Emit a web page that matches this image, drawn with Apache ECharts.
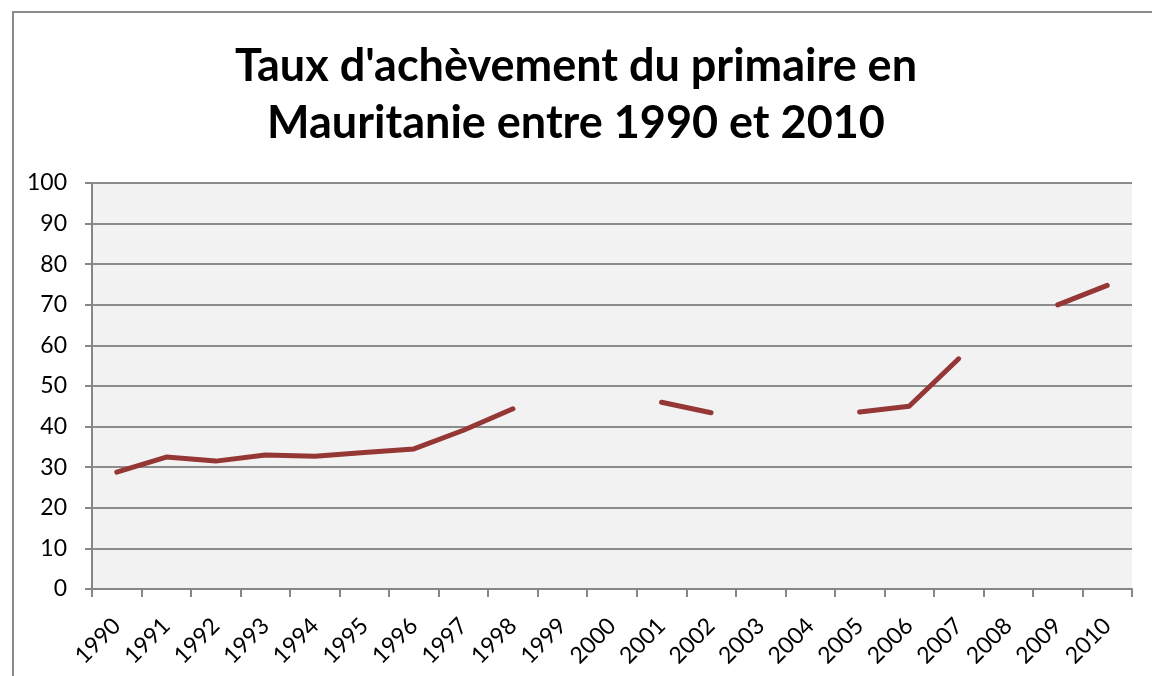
<!DOCTYPE html>
<html>
<head>
<meta charset="utf-8">
<script src="https://cdn.jsdelivr.net/npm/echarts@6/dist/echarts.min.js"></script>
<style>
  html, body { margin: 0; padding: 0; background: #fff; }
  #frame { position: absolute; left: 12px; top: 11px; width: 1200px; height: 720px; border: 2px solid #8a8a8a; box-sizing: border-box; }
  #chart { position: absolute; left: 0; top: 0; width: 1152px; height: 676px; }
</style>
</head>
<body>
<div id="frame"></div>
<div id="chart"></div>
<script>
  // années et taux (null = pas de donnée)
  const years = ['1990','1991','1992','1993','1994','1995','1996','1997','1998','1999','2000',
    '2001','2002','2003','2004','2005','2006','2007','2008','2009','2010'];
  const rates = [28.8, 32.5, 31.5, 33.0, 32.7, 33.6, 34.5, 39.1, 44.4, null, null,
    46.0, 43.4, null, null, 43.6, 45.0, 56.7, null, 70.0, 74.8];
  const yTicks = { min: 0, max: 100, interval: 10 };

  let chart = echarts.init(document.getElementById('chart'))
  chart.setOption({
    animation: false,
    title: {
      text: "Taux d'achèvement du primaire en\nMauritanie entre 1990 et 2010",
      left: 'center',
      top: 33,
      textStyle: {
        fontFamily: 'Lato',
        fontWeight: 'bold',
        fontSize: 45,
        lineHeight: 57,
        color: '#000'
      }
    },
    grid: {
      left: 92,
      right: 20,
      top: 183,
      bottom: 87,
      show: true,
      backgroundColor: '#f2f2f2',
      borderWidth: 0
    },
    xAxis: {
      type: 'category',
      data: years,
      boundaryGap: true,
      axisLine: { lineStyle: { color: '#868686', width: 2 } },
      axisTick: { show: true, length: 8, alignWithLabel: false, lineStyle: { color: '#868686', width: 2 } },
      axisLabel: {
        interval: 0,
        rotate: 45,
        margin: 33,
        fontFamily: 'Lato',
        fontSize: 23,
        color: '#000'
      }
    },
    yAxis: {
      type: 'value',
      min: yTicks.min,
      max: yTicks.max,
      interval: yTicks.interval,
      axisLine: { show: true, lineStyle: { color: '#868686', width: 2 } },
      axisTick: { show: true, length: 7, lineStyle: { color: '#868686', width: 2 } },
      splitLine: { lineStyle: { color: '#8c8c8c', width: 2 } },
      axisLabel: {
        margin: 25,
        fontFamily: 'Lato',
        fontSize: 23,
        color: '#000'
      }
    },
    series: [{
      type: 'line',
      data: rates,
      connectNulls: false,
      showSymbol: false,
      symbol: 'none',
      lineStyle: { color: '#953735', width: 5, cap: 'round', join: 'round' }
    }]
  })
</script>
</body>
</html>
